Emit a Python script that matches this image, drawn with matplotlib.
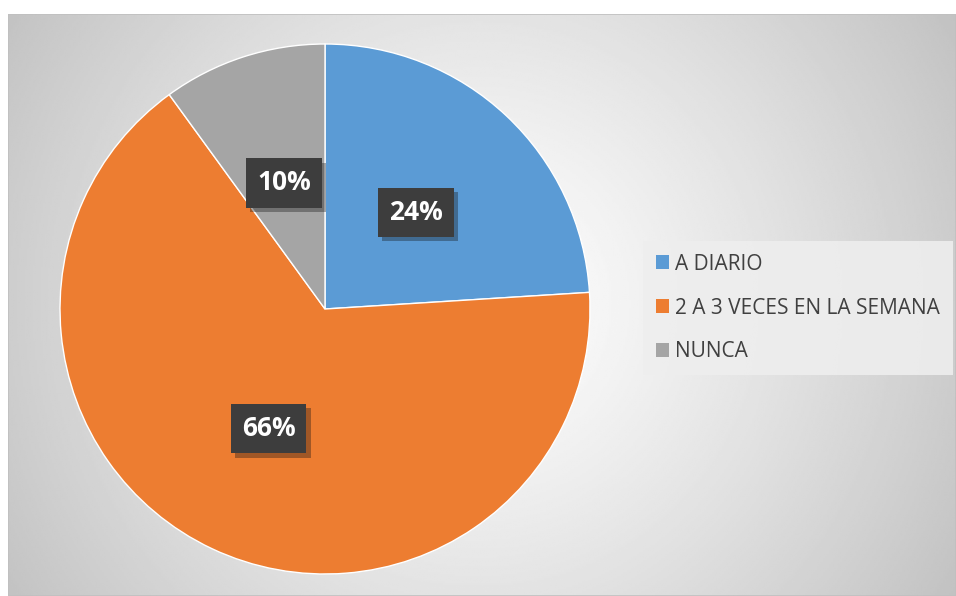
import numpy as np
import matplotlib
matplotlib.use("Agg")
import matplotlib.pyplot as plt
import matplotlib.patheffects as pe
from matplotlib.patches import Rectangle

# ── Data ───────────────────────────────────────────────────────────────────────
categories = ["A DIARIO", "2 A 3 VECES EN LA SEMANA", "NUNCA"]
shares     = [24, 66, 10]
colors     = ["#5b9bd5", "#ed7d31", "#a5a5a5"]

W, H = 956, 596
plt.rcParams["font.family"] = ["Open Sans", "DejaVu Sans"]

fig = plt.figure(figsize=(W / 100, H / 100), dpi=100)
fig.patch.set_facecolor("white")

# ── Chart area with radial gray gradient ───────────────────────────────────────
x0, y_top = 8, 14
bg = fig.add_axes([x0 / W, 0, (W - x0) / W, (H - y_top) / H])
bg.set_axis_off()
gx, gy = np.meshgrid(np.linspace(0, W - x0, 480), np.linspace(0, H - y_top, 300))
cx, cy = 470, 290
d = np.sqrt((gx - cx) ** 2 + (gy - cy) ** 2) / 560
shade = np.clip(1.0 - 0.24 * d ** 1.2, 0.76, 1.0)
bg.imshow(shade, cmap="gray", vmin=0, vmax=1, extent=[0, 1, 0, 1],
          aspect="auto", origin="upper", interpolation="bilinear")
bg.set_xlim(0, 1)
bg.set_ylim(0, 1)
bg.add_patch(Rectangle((0, 0), 1, 1, transform=bg.transAxes, fill=False,
                       edgecolor="#c0c0c0", linewidth=1.2))

# ── Pie ────────────────────────────────────────────────────────────────────────
r_px = 265
pcx, pcy = 325, H - 309
ax = fig.add_axes([(pcx - r_px) / W, (pcy - r_px) / H, 2 * r_px / W, 2 * r_px / H])
wedges, _ = ax.pie(shares, colors=colors, startangle=90, counterclock=False,
                   wedgeprops=dict(edgecolor="white", linewidth=1.0))
ax.set_xlim(-1, 1)
ax.set_ylim(-1, 1)
ax.set_aspect("equal")
ax.set_axis_off()

# percentage labels on dark boxes with a soft drop shadow
total = sum(shares)
angle = 90.0
for val in shares:
    span = 360.0 * val / total
    mid = np.deg2rad(angle - span / 2)
    angle -= span
    lx, ly = 0.5 * np.cos(mid), 0.5 * np.sin(mid)
    t = ax.text(lx, ly, f"{val}%", ha="center", va="center", fontsize=19,
                fontweight="bold", color="white",
                bbox=dict(boxstyle="square,pad=0.42", facecolor="#3d3d3d",
                          edgecolor="none"))
    t.get_bbox_patch().set_path_effects(
        [pe.SimplePatchShadow(offset=(3, -3), alpha=0.35), pe.Normal()])

# ── Legend ─────────────────────────────────────────────────────────────────────
leg = fig.legend(wedges, categories, loc="center left",
                 bbox_to_anchor=(643 / W, 1 - 308 / H), frameon=True,
                 fontsize=15, labelcolor="#404040", handlelength=0.65,
                 handleheight=0.65, handletextpad=0.3, labelspacing=1.1,
                 borderpad=0.6, borderaxespad=0, fancybox=False)
frame = leg.get_frame()
frame.set_facecolor("#eeeeee")
frame.set_edgecolor("none")
frame.set_alpha(0.9)
for h in leg.legend_handles:
    h.set_edgecolor("none")

fig.savefig("out.png", dpi=100)
